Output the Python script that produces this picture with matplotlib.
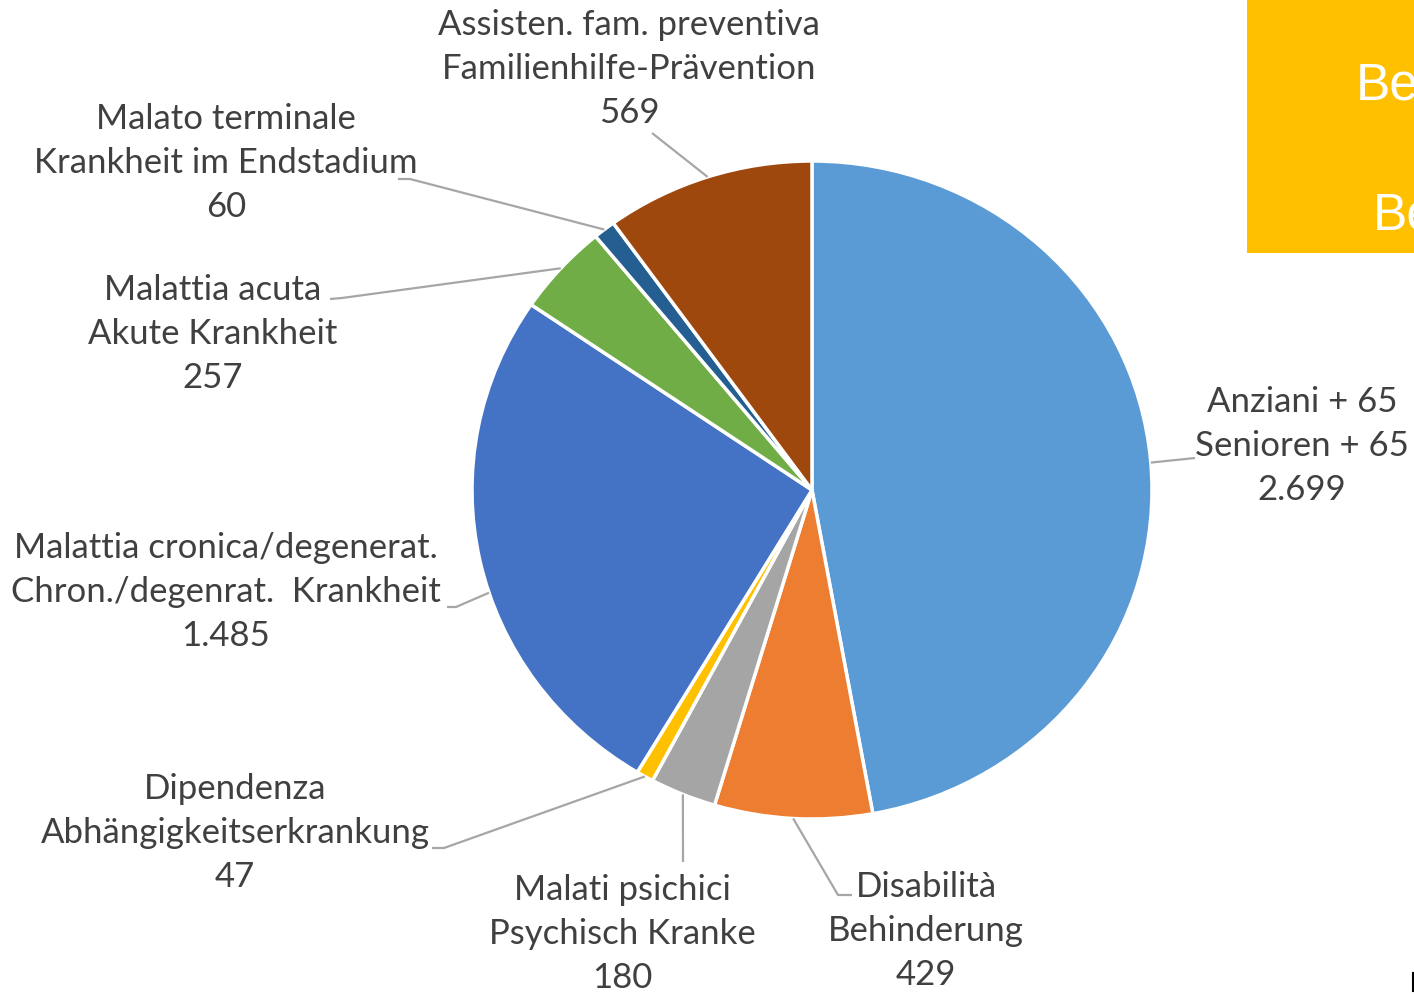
import numpy as np
import matplotlib.pyplot as plt
from matplotlib.patches import Rectangle

# slices, clockwise from 12 o'clock
labels_it = ["Anziani + 65", "Disabilità", "Malati psichici", "Dipendenza",
             "Malattia cronica/degenerat.", "Malattia acuta", "Malato terminale",
             "Assisten. fam. preventiva"]
labels_de = ["Senioren + 65", "Behinderung", "Psychisch Kranke", "Abhängigkeitserkrankung",
             "Chron./degenrat.  Krankheit", "Akute Krankheit", "Krankheit im Endstadium",
             "Familienhilfe-Prävention"]
values = [2699, 429, 180, 47, 1485, 257, 60, 569]
colors = ["#5B9BD5", "#ED7D31", "#A5A5A5", "#FFC000", "#4472C4", "#70AD47", "#255E91", "#9E480E"]

W, H = 1414, 994
fig = plt.figure(figsize=(W / 100, H / 100), dpi=100)
ax = fig.add_axes([0, 0, 1, 1])
ax.set_xlim(0, W)
ax.set_ylim(0, H)
ax.axis("off")

cx, cy = 812, 490      # pixel coords, y measured from top
rx_px, ry_px = 340, 329  # pie is slightly wider than tall in the reference

# pie in its own axes, y units stretched so the circle becomes the same ellipse
pax = fig.add_axes([0, 0, 1, 1], zorder=0)
ys = rx_px / ry_px
pax.pie(values, colors=colors, startangle=90, counterclock=False,
        center=(cx, (H - cy) * ys), radius=rx_px, frame=False,
        wedgeprops=dict(edgecolor="white", linewidth=2.5))
pax.set_xlim(0, W)
pax.set_ylim(0, H * ys)
pax.set_aspect("auto")
pax.axis("off")
ax.set_zorder(1)
ax.patch.set_visible(False)

# label block centres (x, y of middle line) and leader elbows, in pixels from top-left
label_pos = [(1302, 446), (926, 931), (622, 934), (235, 833),
             (226, 592), (213, 334), (226, 163), (629, 69)]
leaders = [
    [(1195, 458)],
    [(852, 895), (838, 895)],
    [(683, 862)],
    [(432, 848), (444, 848)],
    [(447, 607), (456, 607)],
    [(330, 299), (342, 298)],
    [(398, 179), (410, 179)],
    [(652, 133)],
]

txt_col = "#404040"
fs = 25
fam = ["Lato", "DejaVu Sans"]

total = sum(values)
start = 0.0
for i, v in enumerate(values):
    span = 360.0 * v / total
    mid = start + span / 2
    pts = leaders[i]
    if span > 90:
        # big wedge: leader aims straight at the label
        ex, ey = pts[-1]
        mid = np.degrees(np.arctan2(ex - cx, cy - ey))
    px = cx + rx_px * np.sin(np.radians(mid))
    py = cy - ry_px * np.cos(np.radians(mid))
    line = pts + [(px, py)]
    ax.plot([p[0] for p in line], [H - p[1] for p in line],
            color="#A6A6A6", lw=1.6, solid_capstyle="butt")
    start += span

    val = f"{v:,}".replace(",", ".")
    x, y = label_pos[i]
    ax.text(x, H - y, f"{labels_it[i]}\n{labels_de[i]}\n{val}",
            ha="center", va="center", multialignment="center",
            fontsize=fs, color=txt_col, family=fam, linespacing=1.48)

# cropped orange title box at top right
ax.add_patch(Rectangle((1247, H - 253), W - 1247 + 5, 258, color="#FFC000", lw=0))
ax.text(1356, H - 100, "Be", fontsize=37, color="white", family="Liberation Sans",
        ha="left", va="baseline")
ax.text(1373, H - 229, "Be", fontsize=37, color="white", family="Liberation Sans",
        ha="left", va="baseline")
ax.plot([1413, 1413], [H - 973, H - 991], color="black", lw=1.5)

fig.savefig("out.png", dpi=100)
